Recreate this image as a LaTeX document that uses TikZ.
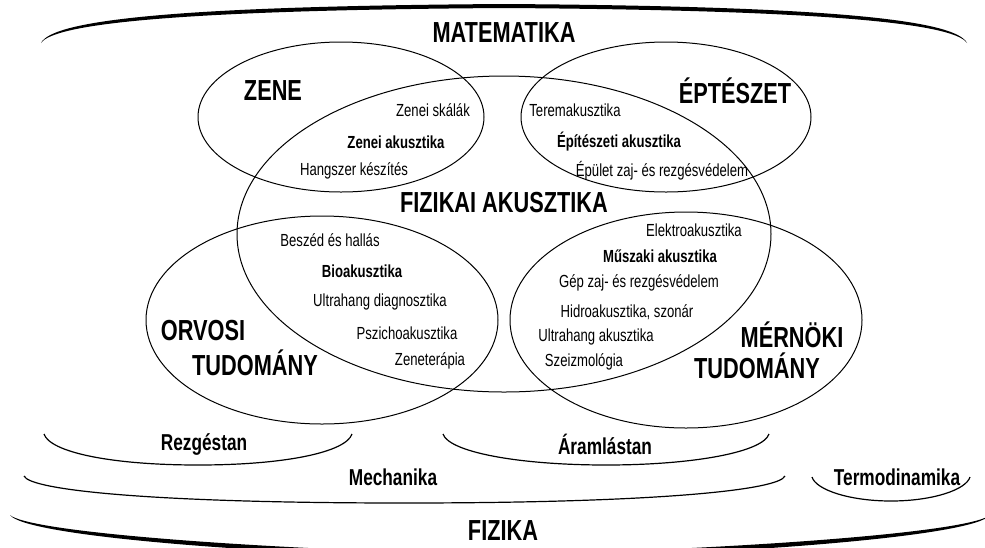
\documentclass[tikz,border=0pt]{standalone}
\usepackage{fontspec}
\setmainfont[FakeStretch=0.75]{Liberation Sans}
\begin{document}
\begin{tikzpicture}[x=1pt,y=-1pt,
  big/.style={font=\fontsize{29}{31}\selectfont\bfseries,inner sep=0pt},
  mid/.style={font=\fontsize{23}{25}\selectfont\bfseries,inner sep=0pt},
  sm/.style={font=\fontsize{17.5}{19}\selectfont,inner sep=0pt},
  smb/.style={font=\fontsize{17.5}{19}\selectfont\bfseries,inner sep=0pt},
  ell/.style={draw=black,line width=1pt},
  bowl/.style={draw=black,line width=1.2pt}]
\useasboundingbox (0,0) rectangle (985,547);
\fill[white] (0,0) rectangle (985,547);
\begin{scope}
\clip (0,0) rectangle (985,547);
% brush arcs
\fill[black] (41,43) .. controls (53,18) and (200,6) .. (504,4) .. controls (808,6) and (955,18) .. (967,43)
  .. controls (953,22) and (808,10) .. (504,8) .. controls (200,10) and (55,22) .. (41,43) -- cycle;
\fill[black] (10,515) .. controls (25,536) and (250,554) .. (500,560) .. controls (750,554) and (975,536) .. (990,515)
  .. controls (971,532) and (750,549) .. (500,555) .. controls (250,549) and (29,532) .. (10,515) -- cycle;
\end{scope}
% ellipses
\draw[ell] (341,117) ellipse [x radius=143, y radius=75];
\draw[ell] (666,117) ellipse [x radius=145, y radius=75];
\draw[ell] (504,234) ellipse [x radius=267, y radius=158];
\draw[ell] (322,320) ellipse [x radius=176, y radius=104];
\draw[ell] (686,320) ellipse [x radius=176, y radius=108];
% bowls
\draw[bowl] (44,434) .. controls (50,452) and (110,465) .. (198,465) .. controls (286,465) and (346,452) .. (352,434);
\draw[bowl] (443,434) .. controls (449,452) and (518,465) .. (606,465) .. controls (694,465) and (763,452) .. (769,434);
\draw[bowl] (24,476) .. controls (30,490) and (150,503) .. (404,503) .. controls (658,503) and (779,490) .. (785,476);
\draw[bowl] (812,477) .. controls (816,490) and (850,501) .. (891,501) .. controls (932,501) and (966,490) .. (970,477);
% labels
\node[big] (mat) at (504,33) {MATEMATIKA};
\node[big] (zene) at (273,91) {ZENE};
\node[big] (ept) at (735,91) {ÉPTÉSZET};
\node[big] (fiz) at (504,203) {FIZIKAI AKUSZTIKA};
\node[big] (orv1) at (203,331) {ORVOSI};
\node[big] (orv2) at (255,363) {TUDOMÁNY};
\node[big] (mer1) at (792,335) {MÉRNÖKI};
\node[big] (mer2) at (757,366) {TUDOMÁNY};
\node[big] (fizika) at (503,531) {FIZIKA};
\node[mid] (rez) at (204,444) {Rezgéstan};
\node[mid] (aram) at (605,444) {Áramlástan};
\node[mid] (mech) at (393,477) {Mechanika};
\node[mid] (term) at (897,477) {Termodinamika};
\node[sm] (z1) at (433,110) {Zenei skálák};
\node[smb] (z2) at (396,142) {Zenei akusztika};
\node[sm] (z3) at (354,171) {Hangszer készítés};
\node[sm] (e1) at (575,110) {Teremakusztika};
\node[smb] (e2) at (619,142) {Építészeti akusztika};
\node[sm] (e3) at (662,171) {Épület zaj- és rezgésvédelem};
\node[sm] (b1) at (330,240) {Beszéd és hallás};
\node[smb] (b2) at (362,271) {Bioakusztika};
\node[sm] (b3) at (380,302) {Ultrahang diagnosztika};
\node[sm] (b4) at (407,333) {Pszichoakusztika};
\node[sm] (b5) at (430,361) {Zeneterápia};
\node[sm] (m1) at (694,230) {Elektroakusztika};
\node[smb] (m2) at (660,256) {Műszaki akusztika};
\node[sm] (m3) at (639,283) {Gép zaj- és rezgésvédelem};
\node[sm] (m4) at (627,312) {Hidroakusztika, szonár};
\node[sm] (m5) at (596,337) {Ultrahang akusztika};
\node[sm] (m6) at (584,362) {Szeizmológia};
\end{tikzpicture}
\end{document}
